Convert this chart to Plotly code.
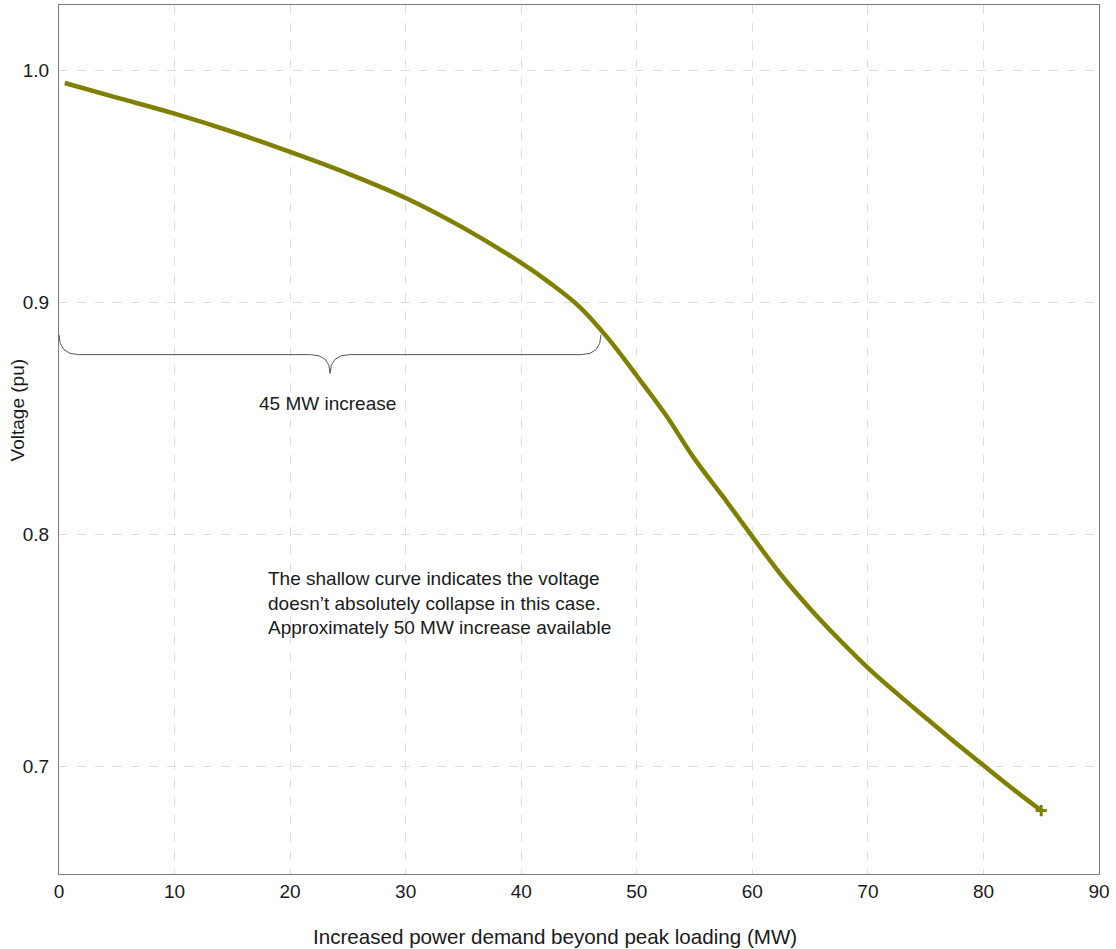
import plotly.graph_objects as go

# Bus voltage vs. additional load beyond peak (PV curve)
demand_mw = [0.5, 5, 10, 15, 20, 25, 30, 35, 40, 42.5, 45, 47.5, 50, 52.5, 55, 57.5, 60,
             62.5, 65, 67.5, 70, 72.5, 75, 77.5, 80, 82.5, 85]
voltage_pu = [0.9944, 0.9881, 0.9812, 0.9734, 0.9647, 0.9554, 0.9449, 0.9320, 0.9169, 0.9082,
              0.8982, 0.8845, 0.8683, 0.8515, 0.8325, 0.8160, 0.7990, 0.7825, 0.7680, 0.7548,
              0.7425, 0.7315, 0.7210, 0.7106, 0.7005, 0.6905, 0.6810]

x_ticks = [0, 10, 20, 30, 40, 50, 60, 70, 80, 90]
y_ticks = [0.7, 0.8, 0.9, 1.0]

# brace spanning the 45 MW margin down to 0.9 pu
brace_x0, brace_x1, brace_mid = 0.0, 46.9, 23.46
brace_top, brace_line, brace_tip = 0.886, 0.8774, 0.8693

FONT = "Liberation Sans, Arial, sans-serif"
OLIVE = "#808000"
INK = "#1a1a1a"

fig = go.Figure()
fig.add_trace(go.Scatter(
    x=demand_mw, y=voltage_pu, mode="lines",
    line=dict(color=OLIVE, width=4.5, shape="spline", smoothing=1.0),
    hoverinfo="x+y", showlegend=False,
))
fig.add_trace(go.Scatter(
    x=demand_mw[-1:], y=voltage_pu[-1:], mode="markers",
    marker=dict(symbol="cross-thin", size=8, line=dict(color=OLIVE, width=3)),
    showlegend=False, hoverinfo="skip",
))

r = 1.7
path = (f"M {brace_x0},{brace_top} Q {brace_x0},{brace_line} {brace_x0 + r},{brace_line} "
        f"L {brace_mid - r},{brace_line} Q {brace_mid},{brace_line} {brace_mid},{brace_tip} "
        f"Q {brace_mid},{brace_line} {brace_mid + r},{brace_line} "
        f"L {brace_x1 - r},{brace_line} Q {brace_x1},{brace_line} {brace_x1},{brace_top}")
fig.add_shape(type="path", path=path, xref="x", yref="y",
              line=dict(color="#555555", width=1))

fig.add_annotation(x=brace_mid - 0.25, y=0.8563, xref="x", yref="y",
                   text="45 MW increase", showarrow=False,
                   font=dict(family=FONT, size=19, color=INK))
fig.add_annotation(x=17.9, y=0.7703, xref="x", yref="y", xanchor="left", yanchor="middle",
                   align="left", showarrow=False,
                   text=("The shallow curve indicates the voltage<br>"
                         "doesn’t absolutely collapse in this case.<br>"
                         "Approximately 50 MW increase available"),
                   font=dict(family=FONT, size=19, color=INK))

# axis titles
fig.add_annotation(x=0.477, y=-0.072, xref="paper", yref="paper", showarrow=False,
                   xanchor="center", yanchor="middle",
                   text="Increased power demand beyond peak loading (MW)",
                   font=dict(family=FONT, size=20.6, color=INK))
fig.add_annotation(x=-0.039, y=0.534, xref="paper", yref="paper", showarrow=False,
                   xanchor="center", yanchor="middle",
                   text="Voltage (pu)", textangle=-90,
                   font=dict(family=FONT, size=19, color=INK))

fig.update_xaxes(
    range=[0, 90], tickvals=x_ticks, showline=True, mirror=True,
    linecolor="#7a7a7a", linewidth=1, showgrid=True, gridcolor="#dedede",
    griddash="dash", gridwidth=1, zeroline=False, ticks="", ticklen=0,
    tickfont=dict(family=FONT, size=19, color=INK),
)
fig.update_yaxes(
    range=[0.6537, 1.028], tickvals=y_ticks, tickformat=".1f", showline=True, mirror=True,
    linecolor="#7a7a7a", linewidth=1, showgrid=True, gridcolor="#dedede",
    griddash="dash", gridwidth=1, zeroline=False, ticks="", ticklabelstandoff=5,
    tickfont=dict(family=FONT, size=19, color=INK),
)
fig.update_layout(
    width=1116, height=949,
    margin=dict(l=59, r=17, t=5, b=75),
    plot_bgcolor="white", paper_bgcolor="white",
    font=dict(family=FONT),
)
fig.write_html("out.html")
